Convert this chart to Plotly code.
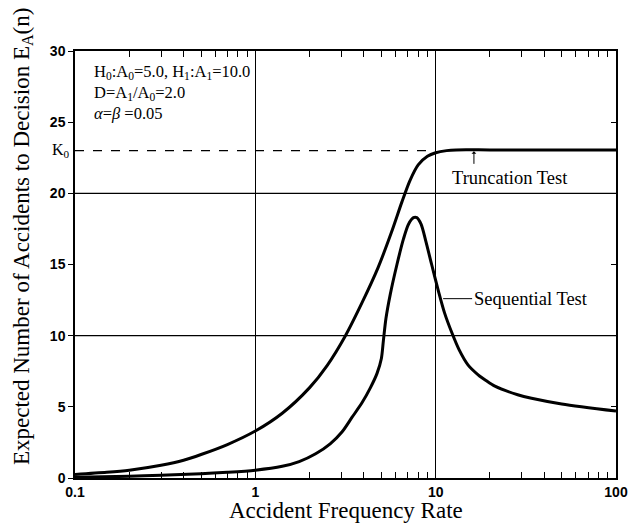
import math
import plotly.graph_objects as go

# ---- data ----
trunc_x = [0.1, 0.15, 0.2, 0.3, 0.4, 0.5, 0.7, 1.0, 1.41, 2.0, 2.5, 3.16, 3.9, 4.8, 5.7, 6.5, 7.2, 8.0, 9.0, 10, 11.5, 13, 20, 40, 100]
trunc_y = [0.25, 0.4, 0.55, 0.9, 1.25, 1.65, 2.35, 3.3, 4.55, 6.35, 7.9, 10.0, 12.3, 14.8, 17.3, 19.4, 20.9, 22.0, 22.6, 22.85, 23.0, 23.05, 23.05, 23.05, 23.05]

seq_x = [0.1, 0.2, 0.3, 0.5, 0.7, 1.0, 1.41, 1.75, 2.16, 2.6, 3.03, 3.44, 3.91, 4.35, 4.73, 5.0, 5.13, 5.3, 5.6, 6.1, 6.63, 7.07, 7.53, 7.86, 8.3, 8.81, 9.5, 10.35, 11.2, 12.3, 13.5, 15.1, 17.2, 19, 21.3, 28.5, 34, 50, 100]
seq_y = [0.05, 0.12, 0.19, 0.3, 0.4, 0.55, 0.82, 1.15, 1.7, 2.4, 3.25, 4.27, 5.3, 6.35, 7.35, 8.4, 9.65, 11.2, 12.9, 15.0, 16.8, 17.83, 18.29, 18.29, 17.83, 16.66, 15.0, 13.15, 11.6, 10.2, 9.0, 7.95, 7.25, 6.85, 6.45, 5.85, 5.6, 5.2, 4.7]

K0 = 23.0
k0_line_x = [0.1, 10]

x_major = [0.1, 1, 10, 100]
x_major_text = ["0.1", "1", "10", "100"]
x_minor = [m * d for d in (0.1, 1, 10) for m in range(2, 10)]
y_ticks = [0, 5, 10, 15, 20, 25, 30]
y_right_ticks = [5, 15, 25]
y_grid = [10, 20]

SERIF = "Liberation Serif, DejaVu Serif, serif"
SANS = "Liberation Sans Narrow, Liberation Sans, Arial, sans-serif"

fig = go.Figure()

fig.add_trace(go.Scatter(x=k0_line_x, y=[K0, K0], mode="lines",
                         line=dict(color="black", width=1.2, dash="dash"),
                         hoverinfo="skip", showlegend=False))
fig.add_trace(go.Scatter(x=trunc_x, y=trunc_y, mode="lines", name="Truncation Test",
                         line=dict(color="black", width=3, shape="spline", smoothing=0.8),
                         showlegend=False))
fig.add_trace(go.Scatter(x=seq_x, y=seq_y, mode="lines", name="Sequential Test",
                         line=dict(color="black", width=3, shape="spline", smoothing=0.8),
                         showlegend=False))

for g in y_grid:
    fig.add_shape(type="line", xref="x domain", yref="y", x0=0, x1=1, y0=g, y1=g,
                  line=dict(color="black", width=1.3), layer="below")

xrange = [math.log10(0.1), math.log10(100)]
fig.update_layout(
    xaxis=dict(type="log", range=xrange,
               tickvals=x_major, ticktext=x_major_text,
               ticks="", showgrid=True, gridcolor="black", gridwidth=1.3,
               showline=True, linecolor="black", linewidth=1.5, mirror=True,
               tickfont=dict(family=SANS, size=14, color="black", weight="bold"),
               minor=dict(tickvals=x_minor, ticks="inside", ticklen=6, tickwidth=1.2,
                          tickcolor="black", showgrid=False),
               zeroline=False),
    xaxis2=dict(type="log", range=xrange, overlaying="x", side="top",
                tickvals=x_minor, ticks="inside", ticklen=6, tickwidth=1.2, tickcolor="black",
                showticklabels=False, showgrid=False, showline=False, zeroline=False),
    yaxis=dict(range=[0, 30], tickvals=y_ticks, ticktext=[str(v) for v in y_ticks],
               ticks="outside", ticklen=5, tickwidth=1.2, tickcolor="black",
               showgrid=False, showline=True, linecolor="black", linewidth=1.5, mirror=True,
               tickfont=dict(family=SANS, size=14, color="black", weight="bold"),
               zeroline=False),
    yaxis2=dict(range=[0, 30], overlaying="y", side="right",
                tickvals=y_right_ticks, ticks="inside", ticklen=5, tickwidth=1.2, tickcolor="black",
                showticklabels=False, showgrid=False, showline=False, zeroline=False),
)
# invisible trace to anchor the auxiliary axes
fig.add_trace(go.Scatter(x=[0.1], y=[0], xaxis="x2", yaxis="y2", mode="markers",
                         marker=dict(opacity=0), hoverinfo="skip", showlegend=False))

ann = []
top_font = dict(family=SERIF, size=16.5, color="black")
ann.append(dict(xref="paper", yref="paper", x=0.031, y=0.951, xanchor="left", yanchor="middle",
                text="H<sub>0</sub>:A<sub>0</sub>=5.0, H<sub>1</sub>:A<sub>1</sub>=10.0",
                showarrow=False, font=top_font))
ann.append(dict(xref="paper", yref="paper", x=0.031, y=0.902, xanchor="left", yanchor="middle",
                text="D=A<sub>1</sub>/A<sub>0</sub>=2.0",
                showarrow=False, font=top_font))
ann.append(dict(xref="paper", yref="paper", x=0.031, y=0.853, xanchor="left", yanchor="middle",
                text="<i>α</i>=<i>β</i> =0.05",
                showarrow=False, font=top_font))
ann.append(dict(xref="paper", yref="y", x=0, y=K0, xanchor="right", yanchor="middle", xshift=-3,
                text="K<sub>0</sub>", showarrow=False, font=dict(family=SERIF, size=16, color="black")))
# Truncation Test arrow + label
ann.append(dict(xref="x", yref="y", x=math.log10(16.3), y=K0 - 0.05, text="", showarrow=True,
                ax=0, ay=14, arrowhead=1, arrowsize=0.8, arrowwidth=1, arrowcolor="black"))
ann.append(dict(xref="x", yref="y", x=math.log10(25.8), y=21.05, text="Truncation Test",
                showarrow=False, xanchor="center", yanchor="middle",
                font=dict(family=SERIF, size=18.5, color="black")))
# Sequential Test label with leader line
ann.append(dict(xref="x", yref="y", x=math.log10(11.0), y=12.6, text="Sequential Test",
                showarrow=True, arrowhead=0, arrowwidth=1, arrowcolor="black",
                ax=29, ay=0, xanchor="left", yanchor="middle", standoff=0,
                font=dict(family=SERIF, size=18.5, color="black")))
# axis titles
ann.append(dict(xref="paper", yref="paper", x=0.5, y=-0.076, xanchor="center", yanchor="middle",
                text="Accident Frequency Rate", showarrow=False,
                font=dict(family=SERIF, size=23, color="black")))
ann.append(dict(xref="paper", yref="paper", x=-0.0974, y=0.565, xanchor="center", yanchor="middle",
                text="Expected Number of Accidents to Decision E<sub>A</sub>(n)", textangle=-90,
                showarrow=False, font=dict(family=SERIF, size=23, color="black")))

fig.update_layout(width=640, height=531, margin=dict(l=75, r=21, t=51, b=53),
                  plot_bgcolor="white", paper_bgcolor="white", annotations=ann,
                  showlegend=False)

fig.write_html("out.html")
